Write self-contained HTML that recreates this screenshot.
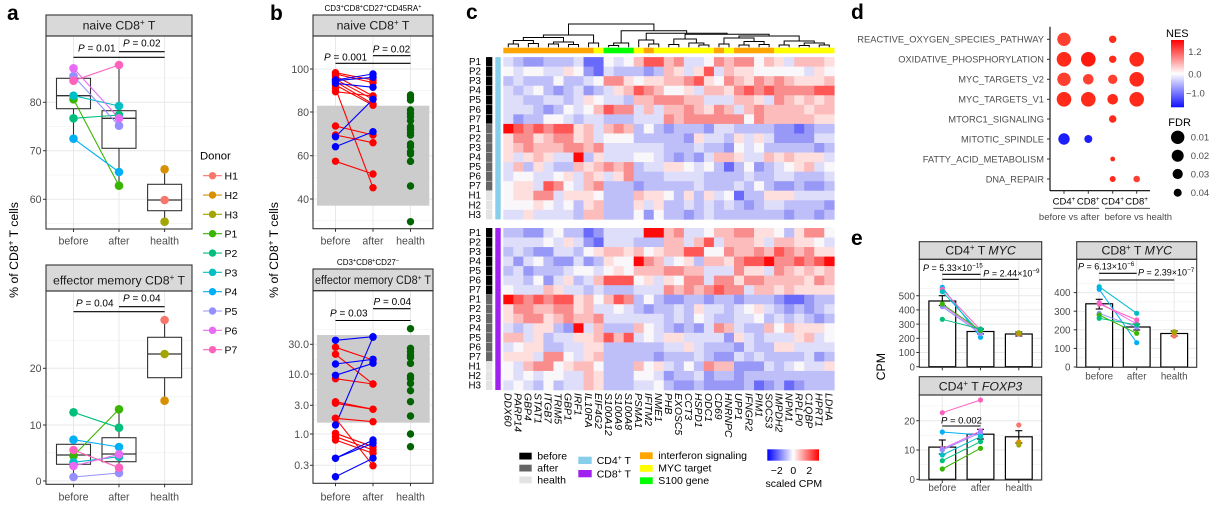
<!DOCTYPE html>
<html><head><meta charset="utf-8">
<style>
html,body{margin:0;padding:0;background:#fff;}
svg{display:block;font-family:"Liberation Sans",Arial,sans-serif;}
.tk{font-size:10.6px;fill:#4d4d4d;}
.tk2{font-size:9.8px;fill:#4d4d4d;}
.st{font-size:12.3px;fill:#1a1a1a;}
.pv{font-size:10px;fill:#000;}
.lab{font-size:21px;font-weight:bold;fill:#000;}
.rl{font-size:9.8px;fill:#000;}
.gn{font-size:10.4px;font-style:italic;fill:#000;}
.lg{font-size:10.5px;fill:#000;}
.dl{font-size:9.5px;fill:#4d4d4d;}
</style></head><body>
<svg id="s" width="1218" height="505" viewBox="0 0 1218 505" xmlns="http://www.w3.org/2000/svg">
<defs>
<linearGradient id="hmg" x1="0" y1="0" x2="1" y2="0">
<stop offset="0" stop-color="#0000ff"/><stop offset="0.5" stop-color="#ffffff"/><stop offset="1" stop-color="#ff0000"/>
</linearGradient>
<linearGradient id="nesg" x1="0" y1="0" x2="0" y2="1">
<stop offset="0" stop-color="#ff0000"/><stop offset="0.5" stop-color="#ffffff"/><stop offset="1" stop-color="#1010ff"/>
</linearGradient>
</defs>
<rect x="0" y="0" width="1218" height="505" fill="#fff"/>
<g id="gbg"></g>
<g id="gdat"></g>
<g id="gtop"></g>

<!-- panel labels -->
<text class="lab" x="7" y="20">a</text>
<text class="lab" x="270" y="20">b</text>
<text class="lab" x="466" y="19">c</text>
<text class="lab" x="851" y="19">d</text>
<text class="lab" x="851" y="245">e</text>

<!-- ===== Panel a ===== -->
<text class="st" x="119" y="29.5" text-anchor="middle">naive CD8<tspan font-size="8" dy="-4.5">+</tspan><tspan dy="4.5"> T</tspan></text>
<text class="st" x="119" y="284.3" text-anchor="middle">effector memory CD8<tspan font-size="8" dy="-4.5">+</tspan><tspan dy="4.5"> T</tspan></text>
<text class="tk" x="41.5" y="106" text-anchor="end">80</text>
<text class="tk" x="41.5" y="154.5" text-anchor="end">70</text>
<text class="tk" x="41.5" y="203" text-anchor="end">60</text>
<text class="tk" x="41.5" y="372" text-anchor="end">20</text>
<text class="tk" x="41.5" y="428.8" text-anchor="end">10</text>
<text class="tk" x="41.5" y="484.8" text-anchor="end">0</text>
<text class="tk" x="73.5" y="244.5" text-anchor="middle">before</text>
<text class="tk" x="119" y="244.5" text-anchor="middle">after</text>
<text class="tk" x="164.6" y="244.5" text-anchor="middle">health</text>
<text class="tk" x="73.5" y="500.5" text-anchor="middle">before</text>
<text class="tk" x="119" y="500.5" text-anchor="middle">after</text>
<text class="tk" x="164.6" y="500.5" text-anchor="middle">health</text>
<text class="pv" x="78" y="51.5"><tspan font-style="italic">P</tspan> = 0.01</text>
<text class="pv" x="123" y="46.5"><tspan font-style="italic">P</tspan> = 0.02</text>
<text class="pv" x="76" y="306.5"><tspan font-style="italic">P</tspan> = 0.04</text>
<text class="pv" x="123" y="301.5"><tspan font-style="italic">P</tspan> = 0.04</text>
<text x="18" y="250" transform="rotate(-90 18 250)" text-anchor="middle" font-size="12.3">% of CD8<tspan font-size="8" dy="-4.5">+</tspan><tspan dy="4.5"> T cells</tspan></text>
<text x="200" y="159.5" font-size="11.3">Donor</text>
<g class="lg" font-size="10.8">
<text x="224.5" y="179.7">H1</text>
<text x="224.5" y="199">H2</text>
<text x="224.5" y="218.4">H3</text>
<text x="224.5" y="237.7">P1</text>
<text x="224.5" y="257">P2</text>
<text x="224.5" y="276.4">P3</text>
<text x="224.5" y="295.7">P4</text>
<text x="224.5" y="315">P5</text>
<text x="224.5" y="334.4">P6</text>
<text x="224.5" y="353.7">P7</text>
</g>

<!-- ===== Panel b ===== -->
<text x="373" y="11" text-anchor="middle" font-size="8">CD3<tspan font-size="5.5" dy="-3">+</tspan><tspan dy="3">CD8</tspan><tspan font-size="5.5" dy="-3">+</tspan><tspan dy="3">CD27</tspan><tspan font-size="5.5" dy="-3">+</tspan><tspan dy="3">CD45RA</tspan><tspan font-size="5.5" dy="-3">+</tspan></text>
<text class="st" x="373" y="29.5" text-anchor="middle">naive CD8<tspan font-size="8" dy="-4.5">+</tspan><tspan dy="4.5"> T</tspan></text>
<text x="368" y="265" text-anchor="middle" font-size="8">CD3<tspan font-size="5.5" dy="-3">+</tspan><tspan dy="3">CD8</tspan><tspan font-size="5.5" dy="-3">+</tspan><tspan dy="3">CD27</tspan><tspan font-size="5.5" dy="-3">−</tspan></text>
<text class="st" x="315" y="284" font-size="11" textLength="116" lengthAdjust="spacingAndGlyphs">effector memory CD8<tspan font-size="7.5" dy="-4">+</tspan><tspan dy="4"> T</tspan></text>
<text class="tk" x="309" y="72.8" text-anchor="end">100</text>
<text class="tk" x="309" y="115.8" text-anchor="end">80</text>
<text class="tk" x="309" y="159.5" text-anchor="end">60</text>
<text class="tk" x="309" y="202.8" text-anchor="end">40</text>
<text class="tk" x="309" y="348.1" text-anchor="end">30.0</text>
<text class="tk" x="309" y="377.8" text-anchor="end">10.0</text>
<text class="tk" x="309" y="409.1" text-anchor="end">3.0</text>
<text class="tk" x="309" y="437.8" text-anchor="end">1.0</text>
<text class="tk" x="309" y="469.1" text-anchor="end">0.3</text>
<text class="tk" x="335.5" y="244.5" text-anchor="middle">before</text>
<text class="tk" x="373" y="244.5" text-anchor="middle">after</text>
<text class="tk" x="410.5" y="244.5" text-anchor="middle">health</text>
<text class="tk" x="335.5" y="500.5" text-anchor="middle">before</text>
<text class="tk" x="373" y="500.5" text-anchor="middle">after</text>
<text class="tk" x="410.5" y="500.5" text-anchor="middle">health</text>
<text class="pv" x="324" y="60.3"><tspan font-style="italic">P</tspan> = 0.001</text>
<text class="pv" x="372.7" y="52.5"><tspan font-style="italic">P</tspan> = 0.02</text>
<text class="pv" x="330" y="316.5"><tspan font-style="italic">P</tspan> = 0.03</text>
<text class="pv" x="373.5" y="305"><tspan font-style="italic">P</tspan> = 0.04</text>
<text x="278" y="250" transform="rotate(-90 278 250)" text-anchor="middle" font-size="12.3">% of CD8<tspan font-size="8" dy="-4.5">+</tspan><tspan dy="4.5"> T cells</tspan></text>

<!-- ===== Panel c ===== -->
<g class="rl" text-anchor="end">
<text x="481" y="65">P1</text><text x="481" y="74.6">P2</text><text x="481" y="84.1">P3</text><text x="481" y="93.7">P4</text><text x="481" y="103.2">P5</text><text x="481" y="112.8">P6</text><text x="481" y="122.3">P7</text><text x="481" y="131.9">P1</text><text x="481" y="141.4">P2</text><text x="481" y="151">P3</text><text x="481" y="160.5">P4</text><text x="481" y="170.1">P5</text><text x="481" y="179.6">P6</text><text x="481" y="189.2">P7</text><text x="481" y="198.7">H1</text><text x="481" y="208.3">H2</text><text x="481" y="217.8">H3</text>
<text x="481" y="236">P1</text><text x="481" y="245.5">P2</text><text x="481" y="255">P3</text><text x="481" y="264.6">P4</text><text x="481" y="274.1">P5</text><text x="481" y="283.6">P6</text><text x="481" y="293.2">P7</text><text x="481" y="302.7">P1</text><text x="481" y="312.2">P2</text><text x="481" y="321.8">P3</text><text x="481" y="331.3">P4</text><text x="481" y="340.8">P5</text><text x="481" y="350.4">P6</text><text x="481" y="359.9">P7</text><text x="481" y="369.4">H1</text><text x="481" y="379">H2</text><text x="481" y="388.5">H3</text>
</g>
<g class="gn">
<text transform="translate(504.5,393) rotate(90)">DDX60</text>
<text transform="translate(514.6,393) rotate(90)">PARP14</text>
<text transform="translate(524.6,393) rotate(90)">GBP4</text>
<text transform="translate(534.6,393) rotate(90)">STAT1</text>
<text transform="translate(544.6,393) rotate(90)">ITGB7</text>
<text transform="translate(554.7,393) rotate(90)">TRIM5</text>
<text transform="translate(564.7,393) rotate(90)">GBP1</text>
<text transform="translate(574.7,393) rotate(90)">IRF1</text>
<text transform="translate(584.8,393) rotate(90)">IL10RA</text>
<text transform="translate(594.8,393) rotate(90)">EIF4G2</text>
<text transform="translate(604.8,393) rotate(90)">S100A12</text>
<text transform="translate(614.8,393) rotate(90)">S100A9</text>
<text transform="translate(624.9,393) rotate(90)">S100A8</text>
<text transform="translate(634.9,393) rotate(90)">PSMA1</text>
<text transform="translate(644.9,393) rotate(90)">IFITM2</text>
<text transform="translate(655,393) rotate(90)">NME1</text>
<text transform="translate(665,393) rotate(90)">PHB</text>
<text transform="translate(675,393) rotate(90)">EXOSC5</text>
<text transform="translate(685.1,393) rotate(90)">CCT3</text>
<text transform="translate(695.1,393) rotate(90)">HSPD1</text>
<text transform="translate(705.1,393) rotate(90)">ODC1</text>
<text transform="translate(715.2,393) rotate(90)">CD69</text>
<text transform="translate(725.2,393) rotate(90)">HNRNPC</text>
<text transform="translate(735.2,393) rotate(90)">UPP1</text>
<text transform="translate(745.3,393) rotate(90)">IFNGR2</text>
<text transform="translate(755.3,393) rotate(90)">PIM1</text>
<text transform="translate(765.3,393) rotate(90)">SOCS3</text>
<text transform="translate(775.3,393) rotate(90)">IMPDH2</text>
<text transform="translate(785.4,393) rotate(90)">NPM1</text>
<text transform="translate(795.4,393) rotate(90)">RPLP0</text>
<text transform="translate(805.4,393) rotate(90)">C1QBP</text>
<text transform="translate(815.5,393) rotate(90)">HPRT1</text>
<text transform="translate(825.5,393) rotate(90)">LDHA</text>
</g>
<!-- legend c -->
<rect x="519.3" y="452.7" width="12.4" height="6.8" fill="#000"/>
<rect x="519.3" y="464.7" width="12.4" height="6.8" fill="#666"/>
<rect x="519.3" y="476.5" width="12.4" height="6.8" fill="#e3e3e3"/>
<text class="lg" x="537.3" y="459.5">before</text>
<text class="lg" x="537.3" y="471.5">after</text>
<text class="lg" x="537.3" y="483.3">health</text>
<rect x="578.3" y="456.7" width="13.4" height="7.3" fill="#87ceeb"/>
<rect x="578.3" y="470" width="13.4" height="7.3" fill="#a020f0"/>
<text class="lg" x="596.7" y="464.2">CD4<tspan font-size="7" dy="-4">+</tspan><tspan dy="4"> T</tspan></text>
<text class="lg" x="596.7" y="477.6">CD8<tspan font-size="7" dy="-4">+</tspan><tspan dy="4"> T</tspan></text>
<rect x="640" y="452.3" width="12.7" height="6.8" fill="#ffa500"/>
<rect x="640" y="465" width="12.7" height="6.8" fill="#ffff00"/>
<rect x="640" y="477.3" width="12.7" height="6.8" fill="#00ff00"/>
<text class="lg" x="658.3" y="459.2">interferon signaling</text>
<text class="lg" x="658.3" y="471.7">MYC target</text>
<text class="lg" x="658.3" y="484">S100 gene</text>
<rect x="767.3" y="449.3" width="51.7" height="11.4" fill="url(#hmg)"/>
<text class="lg" x="776.7" y="474" text-anchor="middle">−2</text>
<text class="lg" x="793.3" y="474" text-anchor="middle">0</text>
<text class="lg" x="809.3" y="474" text-anchor="middle">2</text>
<text class="lg" x="793.8" y="487" text-anchor="middle">scaled CPM</text>

<!-- ===== Panel d ===== -->
<g class="dl" text-anchor="end">
<text x="1044" y="42.7" textLength="186.7" lengthAdjust="spacingAndGlyphs">REACTIVE_OXYGEN_SPECIES_PATHWAY</text>
<text x="1044" y="62.7" textLength="145.7" lengthAdjust="spacingAndGlyphs">OXIDATIVE_PHOSPHORYLATION</text>
<text x="1044" y="82.7" textLength="85.7" lengthAdjust="spacingAndGlyphs">MYC_TARGETS_V2</text>
<text x="1044" y="102.7" textLength="85.7" lengthAdjust="spacingAndGlyphs">MYC_TARGETS_V1</text>
<text x="1044" y="122.4" textLength="95.7" lengthAdjust="spacingAndGlyphs">MTORC1_SIGNALING</text>
<text x="1044" y="142.4" textLength="83" lengthAdjust="spacingAndGlyphs">MITOTIC_SPINDLE</text>
<text x="1044" y="162.4" textLength="121.3" lengthAdjust="spacingAndGlyphs">FATTY_ACID_METABOLISM</text>
<text x="1044" y="182.4" textLength="58.3" lengthAdjust="spacingAndGlyphs">DNA_REPAIR</text>
</g>
<g font-size="9.5" fill="#000" text-anchor="middle">
<text x="1064" y="204.3">CD4<tspan font-size="6.5" dy="-3.5">+</tspan></text>
<text x="1088.3" y="204.3">CD8<tspan font-size="6.5" dy="-3.5">+</tspan></text>
<text x="1112.7" y="204.3">CD4<tspan font-size="6.5" dy="-3.5">+</tspan></text>
<text x="1136.7" y="204.3">CD8<tspan font-size="6.5" dy="-3.5">+</tspan></text>
</g>
<text class="dl" x="1069.3" y="220" text-anchor="middle">before vs after</text>
<text class="dl" x="1138.3" y="220" text-anchor="middle">before vs health</text>
<text x="1166" y="37" font-size="11">NES</text>
<rect x="1171" y="40" width="13" height="67.3" fill="url(#nesg)"/>
<text class="dl" x="1188.3" y="55" fill="#333">1.2</text>
<text class="dl" x="1188.3" y="77.4" fill="#333">0.0</text>
<text class="dl" x="1186" y="96.6" fill="#333">−1.0</text>
<text x="1168.3" y="126" font-size="11">FDR</text>
<circle cx="1177.7" cy="137.3" r="6.7" fill="#000"/>
<circle cx="1177.7" cy="155.7" r="6" fill="#000"/>
<circle cx="1177.7" cy="174" r="5.1" fill="#000"/>
<circle cx="1177.7" cy="192.7" r="4" fill="#000"/>
<text class="dl" x="1190.7" y="140.7" fill="#333">0.01</text>
<text class="dl" x="1190.7" y="159" fill="#333">0.02</text>
<text class="dl" x="1190.7" y="177.4" fill="#333">0.03</text>
<text class="dl" x="1190.7" y="196" fill="#333">0.04</text>

<!-- ===== Panel e ===== -->
<text class="st" x="980.5" y="254.5" text-anchor="middle">CD4<tspan font-size="8" dy="-4.5">+</tspan><tspan dy="4.5"> T </tspan><tspan font-style="italic">MYC</tspan></text>
<text class="st" x="1136.7" y="254.5" text-anchor="middle">CD8<tspan font-size="8" dy="-4.5">+</tspan><tspan dy="4.5"> T </tspan><tspan font-style="italic">MYC</tspan></text>
<text class="st" x="980.5" y="390.5" text-anchor="middle">CD4<tspan font-size="8" dy="-4.5">+</tspan><tspan dy="4.5"> T </tspan><tspan font-style="italic">FOXP3</tspan></text>
<g class="tk2" text-anchor="end">
<text x="915" y="299.3">500</text><text x="915" y="313.6">400</text><text x="915" y="327.8">300</text><text x="915" y="342">200</text><text x="915" y="356.2">100</text><text x="915" y="370.3">0</text>
<text x="1070.5" y="296.2">400</text><text x="1070.5" y="314.8">300</text><text x="1070.5" y="333.4">200</text><text x="1070.5" y="352">100</text><text x="1070.5" y="370.6">0</text>
<text x="915" y="424.3">20</text><text x="915" y="453.6">10</text><text x="915" y="482.9">0</text>
</g>
<g class="tk2" text-anchor="middle">
<text x="1099.2" y="379.5">before</text><text x="1136.7" y="379.5">after</text><text x="1174.2" y="379.5">health</text>
<text x="942.3" y="491">before</text><text x="980.5" y="491">after</text><text x="1018.8" y="491">health</text>
</g>
<g font-size="9" fill="#000">
<text x="923" y="271"><tspan font-style="italic">P</tspan> = 5.33×10<tspan font-size="6.3" dy="-3.5">−15</tspan></text>
<text x="983.3" y="276.5"><tspan font-style="italic">P</tspan> = 2.44×10<tspan font-size="6.3" dy="-3.5">−9</tspan></text>
<text x="1078" y="269.5"><tspan font-style="italic">P</tspan> = 6.13×10<tspan font-size="6.3" dy="-3.5">−6</tspan></text>
<text x="1138" y="275.5"><tspan font-style="italic">P</tspan> = 2.39×10<tspan font-size="6.3" dy="-3.5">−7</tspan></text>
<text x="941" y="423.5" font-size="9.5"><tspan font-style="italic">P</tspan> = 0.002</text>
</g>
<text x="885" y="366.7" transform="rotate(-90 885 366.7)" text-anchor="middle" font-size="12.3">CPM</text>
</svg>

<script>
(function(){
var NS="http://www.w3.org/2000/svg";
var BG=document.getElementById('gbg'),DT=document.getElementById('gdat'),TP=document.getElementById('gtop');
function el(p,tag,a){var e=document.createElementNS(NS,tag);for(var k in a)e.setAttribute(k,a[k]);p.appendChild(e);return e;}
function line(p,x1,y1,x2,y2,c,w){el(p,'line',{x1:x1,y1:y1,x2:x2,y2:y2,stroke:c||'#000','stroke-width':w||1});}
function rect(p,x,y,w,h,f,s,sw){var a={x:x,y:y,width:w,height:h,fill:f};if(s){a.stroke=s;a['stroke-width']=sw||1;}el(p,'rect',a);}
function circ(p,x,y,r,f){el(p,'circle',{cx:x,cy:y,r:r,fill:f});}
var C={H1:'#F8766D',H2:'#D89000',H3:'#A3A500',P1:'#39B600',P2:'#00BF7D',P3:'#00BFC4',P4:'#00B0F6',P5:'#9590FF',P6:'#E76BF3',P7:'#FF62BC'};

function frame(x0,x1,sT,sB,pB,maj,mn,cats){
  rect(BG,x0,sB,x1-x0,pB-sB,'#fff');
  mn.forEach(function(y){line(BG,x0,y,x1,y,'#efefef',0.6);});
  maj.forEach(function(y){line(BG,x0,y,x1,y,'#e8e8e8',1);});
  cats.forEach(function(x){line(BG,x,sB,x,pB,'#e8e8e8',1);});
  rect(TP,x0,sT,x1-x0,sB-sT,'#d9d9d9','#333',1.1);
  rect(TP,x0,sB,x1-x0,pB-sB,'none','#333',1.1);
  maj.forEach(function(y){line(TP,x0-3,y,x0,y,'#333',1);});
  cats.forEach(function(x){line(TP,x,pB,x,pB+3,'#333',1);});
}
function box(x,hw,q3,md,q1,wt,wb){
  line(DT,x,wt,x,q3,'#333',1.1);line(DT,x,q1,x,wb,'#333',1.1);
  rect(DT,x-hw,q3,2*hw,q1-q3,'#fff','#333',1.1);
  line(DT,x-hw,md,x+hw,md,'#333',1.3);
}
function pv(x1,x2,y){line(DT,x1,y,x2,y,'#000',1.1);}

// ---- Panel a
var ac=[73.5,119,164.6];
frame(46,192,15,36,229,[102.3,150.7,199.3],[78,126.5,175,223.6],ac);
frame(46,192,265,291,484.3,[368.3,425,481],[340.2,396.7,452.8],ac);
box(73.5,17,78.3,95.7,108.7,68.3,138.7);
box(119,17,110.7,118.3,148.3,65,185.7);
box(164.6,17,184.3,200,210.7,169.3,221.7);
box(73.5,17,444.3,455,464.3,439.7,477);
box(119,17,437.7,454,461.7,409.3,472.7);
box(164.6,17,337.3,354,377.7,320,400.7);
pv(73.5,164.6,57.3);pv(119,164.6,51.7);
pv(73.5,164.6,311.7);pv(119,164.6,306.7);
var aT={P1:[99.3,185.7],P2:[118.3,115],P3:[95.7,106],P4:[138.7,172],P5:[76,125.7],P6:[68.3,118.3],P7:[80.7,65]};
var aB={P1:[455.7,409.3],P2:[412.3,427.7],P3:[462.3,456.7],P4:[439.7,447],P5:[477,473],P6:[466,454.3],P7:[450,467.7]};
[aT,aB].forEach(function(d){var k;for(k in d)line(DT,ac[0],d[k][0],ac[1],d[k][1],C[k],1.1);
 for(k in d){circ(DT,ac[0],d[k][0],4.3,C[k]);circ(DT,ac[1],d[k][1],4.3,C[k]);}});
[[200,169.3,221.7],[320,400.7,354]].forEach(function(h){circ(DT,ac[2],h[0],4.3,C.H1);circ(DT,ac[2],h[1],4.3,C.H2);circ(DT,ac[2],h[2],4.3,C.H3);});
['H1','H2','H3','P1','P2','P3','P4','P5','P6','P7'].forEach(function(k,i){var y=175.7+19.33*i;line(DT,203,y,222,y,C[k],1.1);circ(DT,212.5,y,3.7,C[k]);});

// ---- Panel b
var bc=[335.5,373,410.5];
frame(313,433,15,36,228.7,[69,112,155.7,199],[90.7,134,177.3,220.7],bc);
frame(313,433,269,290.7,483.3,[344.3,374,405.3,434,465.3],[329.5,359.2,389.7,419.7,449.7],bc);
rect(BG,317,105.7,112.3,100,'#cccccc');
rect(BG,317,335,112.7,87.7,'#cccccc');
pv(335.5,410.5,63.3);pv(373,410.5,55.7);
pv(335.5,410.5,320.5);pv(373,410.5,308.7);
var R='#ff0000',B='#0000ff',GR='#006400';
var bTr=[[72.7,80],[74,82.7],[76,96],[79.3,99.3],[81.7,104],[85,105.3],[88.3,187.7],[91.7,96],[126,135],[135,142.7],[161.3,174]];
var bTb=[[80,74],[80.7,77.3],[83.3,87.3],[136.7,99.3],[146.7,131.7]];
var bBr=[[347.3,360],[354.3,384],[378.7,384],[401.7,409.3],[403.3,409.3],[418.3,421.7],[418.3,465.7],[433.3,446.7],[436.7,450],[440,453.3]];
var bBb=[[340.3,336.7],[425,337.3],[364,359.3],[375.3,363.3],[458.3,440],[476.7,458.3],[458.3,443.3]];
[[bTr,R],[bTb,B],[bBr,R],[bBb,B]].forEach(function(s){s[0].forEach(function(p){line(DT,bc[0],p[0],bc[1],p[1],s[1],1.1);});});
[[bTr,R],[bBr,R],[bTb,B],[bBb,B]].forEach(function(s){s[0].forEach(function(p){circ(DT,bc[0],p[0],3.7,s[1]);circ(DT,bc[1],p[1],3.7,s[1]);});});
[285,292,300,330,340,350,362,380,388,398,405,432,440,455,462,484,558,665].forEach(function(v){circ(DT,bc[2],v/3,3.7,GR);});
[236,295,305,315,322,340,378,385,400,422,455,498,552,590].forEach(function(v){circ(DT,bc[2],250+v/3,3.7,GR);});

// ---- Panel c heatmap
var TOPM=["abccbbbadd0a0BDDBCaa0CBCC0BAaBBBA","0a00aaA0cdabbbcbBAaADaBAA00000aA0","babbb0bba0CCA0AABBCDA0CBACBCBAAAB","aba0bcbacbaABDCB00AaBBACDCDCCCCDD","aabbaabaA0aabBBCCCBBaaaBBAaCBABAB","aaabcb0a0BDCCaBaBBCBACBaBCBBBBABB","acbb00abaabbbaaaCBCCCCCC0CBBBBBAA","EDCDCDDABaBCBb0bcbbbcaabbbbccdcbb","ACCABCCABa000bbbbbcAaabAaAaccccaa","ABCBBBCCBCaaaaaabbbabbc0a0bbbbbcb","AaABAaaEbAaaa00abcbcaBBAaaBABAAAa","aBbAabbBABCBCbaaAA0a0bdb0cba0ABa0","a00aa0AaBAaACbbbaaaabbbbabbaabbba","0AAaDC0aBCbbbcbbbbbabbbab0bccbccb","0AACCaAAA0bbbBAA0bAbAa0dbbAAAaaaa","000A0a0bABbbbAaAbbabababcbaabbbbc","aaAaaaabBBbbb0c0bbcbabbbbbbbcbbcb"];
var BOTM=["bbcca0bbdcaaaaEEBCaa0BBCCAA0bACC0","aaaa0aAacdaaabbbBBaBDaBBBAaBBAA0a","babccaab0ABBAB0ABBDD00CBBCBDCBCAA","aca0bccacbA00ECBa0AbBBACDDECCDCDE","bacbbba00a0A0BBBCCBBaaaCAAaCBABAB","aab0caAbaBDDD0AaA0CCaCCACCBBBBACB","0aaaBAaababbbaaaCBCBCDCCaBBABAAAA","EDCDCDDAB0BDCb0bccbbcbbcbbbcddcbb","ACCBBCCABaa0abcbbabAaaba0Aabcbcba","ABCCABCBBCaaaaaabab0abbaa0bababcb","abaAAbcEaBbbbB0abcbcaCBabbB0BAAA0","BBaAbaaAABDBDa0aAAaaaacAabaaaABa0","a0AAbbaaAAbbbbbbaaAabbbcabbAAaaaa","AAAaCC0aABbbbbbcbbbabccababbbbacb","0aBCC0ABB0bbbB0Aab0bCBBcccaba0aaA","0a0a00aaBAbbb00acbbacbbcbbbbbbbbb","a0ab0baaBAbbbaa0bccbccccbdcbdcbbb"];
var COL={d:'#6a6afa',c:'#9898f6',b:'#bebef9',a:'#dedefb','0':'#f9f7fa',A:'#ffdede',B:'#fcbcbc',C:'#f98c8c',D:'#ff5656',E:'#ff0a0a'};
var hx=503.3,cw=10.03;
function block(M,y0,rh){M.forEach(function(r,i){var n=Math.min(r.length,33);for(var j=0;j!==n;j++){rect(DT,(hx+cw*j).toFixed(2),(y0+rh*i).toFixed(2),(cw+0.3).toFixed(2),(rh+0.3).toFixed(2),COL[r.charAt(j)]||'#fff');}});}
block(TOPM,57.1,9.545);block(BOTM,228,9.53);
function annot(y0,rh,ct){
  var i;
  for(i=0;i!==17;i++){var f=(i>=14)?'#e3e3e3':((i>=7)?'#666':'#000');rect(DT,486,y0+rh*i,6.3,rh,f);}
  for(i=1;i!==17;i++)line(DT,486,y0+rh*i,492.3,y0+rh*i,'#fff',0.4);
  rect(DT,495.3,y0,5.4,rh*17,ct);
}
annot(57.1,9.545,'#87ceeb');annot(228,9.53,'#a020f0');
var ca='OOOOOOOOOYGGGYOYYYYYYOYOOOOYYYYYY';
var CAC={O:'#ffa500',Y:'#ffff00',G:'#00ff00'};
for(var j=0;j!==33;j++)rect(DT,hx+cw*j,47.7,cw+0.2,5.6,CAC[ca.charAt(j)]);
function dend(n){
  if(typeof n==='number')return {x:hx+cw*(n-0.5),y:47.2};
  var L=dend(n[0]),Rr=dend(n[1]),h=n[2];
  el(DT,'path',{d:'M'+L.x.toFixed(2)+' '+L.y+'V'+h+'H'+Rr.x.toFixed(2)+'V'+Rr.y,fill:'none',stroke:'#000','stroke-width':1});
  return {x:(L.x+Rr.x)/2,y:h};
}
var A=[[[1,2,44],[3,4,43.5],40.5],[[5,6,44],[7,8,44.5],42],37.5];
var Bn=[9,10,43];
var Lf=[A,Bn,35];
var Gn=[[11,12,45.5],13,43];
var M1=[14,[15,16,44],40];
var M3=[[17,18,44.5],[19,[20,21,45],43],39];
var M5=[[22,23,44],[[24,25,45],[26,27,44.5],41.5],38];
var M6=[[28,29,45],[[30,31,45.5],[32,33,45],43],41];
var M4=[M5,M6,36];
var M2=[M3,M4,34.3];
var Mn=[M1,M2,33.3];
var Rt=[Gn,Mn,30.7];
dend([Lf,Rt,24]);
[776.7,793.3,809.3].forEach(function(x){line(DT,x,449.3,x,451.5,'#fff',0.8);line(DT,x,458.5,x,460.7,'#fff',0.8);});

// ---- Panel d
line(TP,1050,26.7,1050,190.7,'#000',1.1);line(TP,1050,190.7,1150,190.7,'#000',1.1);
var dy=[39.3,59.3,79.3,99.3,119,139,159,179],dx=[1064,1088.3,1112.7,1136.7];
dy.forEach(function(y){line(TP,1047,y,1050,y,'#333',1);});dx.forEach(function(x){line(TP,x,190.7,x,193.7,'#333',1);});
line(TP,1053.3,208.3,1099.3,208.3,'#333',0.9);line(TP,1105,208.3,1150,208.3,'#333',0.9);
var RD='#ff2a1a',RL='#ff4030',BL='#1e1efa';
var dots=[[0,0,6.7,RL],[0,2,3.7,RD],[1,0,7.3,RD],[1,1,7.3,'#ff1a10'],[1,2,3.7,RD],[1,3,7.3,RD],
[2,0,6.7,RL],[2,1,5.3,RL],[2,2,4.7,RL],[2,3,7.3,RD],[3,0,7.3,RD],[3,1,7.3,RD],[3,2,5.3,RD],[3,3,7.3,RD],
[4,2,3.7,RD],[5,0,5.7,BL],[5,1,4,BL],[6,2,2.4,RD],[7,2,3,RD],[7,3,3.3,RL]];
dots.forEach(function(d){circ(DT,dx[d[1]],dy[d[0]],d[2],d[3]);});
[51.7,74,93.3].forEach(function(y){line(DT,1171,y,1173.5,y,'#fff',0.8);line(DT,1181.5,y,1184,y,'#fff',0.8);});

// ---- Panel e
var e1=[942.3,980.5,1018.8],e2=[1099.2,1136.7,1174.2];
function seq(n,f){var r=[];for(var k=0;k!==n;k++)r.push(f(k));return r;}
frame(919.3,1041.7,241.7,259.3,367.3,seq(6,function(k){return 366.7-14.2*k;}),seq(6,function(k){return 366.7-14.2*(k+0.5);}),e1);
frame(1076.7,1196.7,241.7,259.3,367.3,seq(5,function(k){return 367-18.6*k;}),seq(5,function(k){return 367-18.6*(k+0.5);}),e2);
frame(919.3,1041.7,376.7,395,480,[479.3,450,420.7],[464.7,435.3,406],e1);
function bars(cx,tops,bot,errs){
  tops.forEach(function(t,i){rect(DT,cx[i]-13.4,t,26.8,bot-t,'#fff','#000',1.2);});
  errs.forEach(function(e,i){line(DT,cx[i],e[0],cx[i],e[1],'#000',1.1);line(DT,cx[i]-3.5,e[0],cx[i]+3.5,e[0],'#000',1.1);line(DT,cx[i]-3.5,e[1],cx[i]+3.5,e[1],'#000',1.1);});
}
bars(e1,[301,331.5,334],366.7,[[295.7,305.5],[329,334],[332,336]]);
bars(e2,[303.8,327,333.5],367,[[299.3,309],[324,330],[331,336]]);
bars(e1,[447.1,434.2,436.8],479.3,[[440,454],[429.3,439],[430.7,443]]);
pv(942.3,980.5,274.3);pv(942.3,1018.8,279.3);
pv(1099.2,1136.7,273.3);pv(1099.2,1174.2,280);
pv(942.3,980.5,426);
function pairs(cx,d,h){
  var k;
  for(k in d)line(DT,cx[0],d[k][0],cx[1],d[k][1],C[k],1);
  for(k in d){circ(DT,cx[0],d[k][0],2.6,C[k]);circ(DT,cx[1],d[k][1],2.6,C[k]);}
  circ(DT,cx[2],h[0],2.6,C.H1);circ(DT,cx[2],h[1],2.6,C.H2);circ(DT,cx[2],h[2],2.6,C.H3);
}
pairs(e1,{P4:[287.3,337.3],P7:[289.3,330],P3:[291.7,333],P6:[305,332],P5:[306.7,333.5],P1:[304,330.5],P2:[319.3,329]},[334,333.5,332.7]);
pairs(e2,{P3:[286.7,313.3],P4:[289.3,342.7],P6:[302.7,324],P7:[304,320],P5:[313.3,327.3],P1:[315,333.3],P2:[318.3,325]},[336,333,331.7]);
pairs(e1,{P7:[412.7,400],P4:[432,435],P6:[449,431],P5:[450,432.7],P3:[455,436.7],P2:[460.7,441.7],P1:[469,448.3]},[425,442,445]);
})();
</script>
</body></html>
